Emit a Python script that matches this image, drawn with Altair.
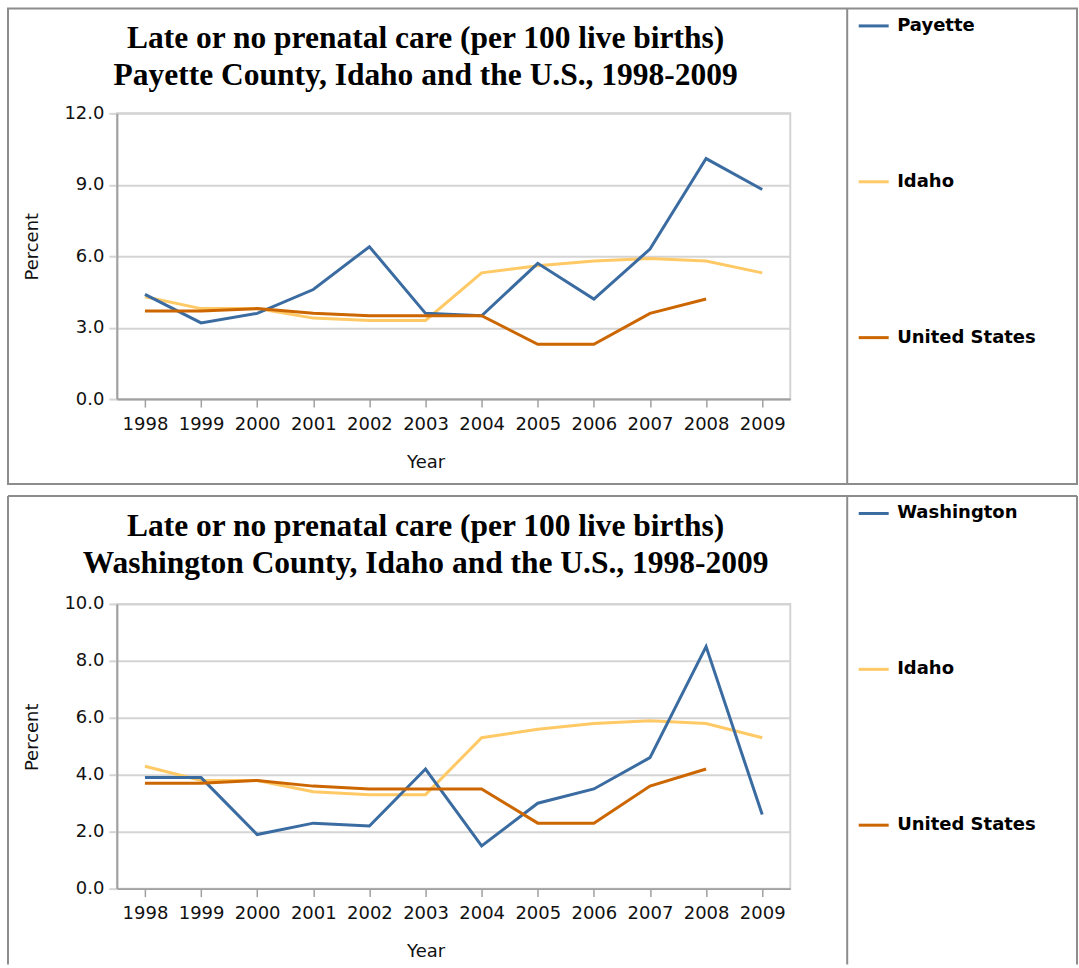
import altair as alt
import pandas as pd

# ---- data -------------------------------------------------------------
years = [str(y) for y in range(1998, 2010)]
payette = [4.4, 3.2, 3.6, 4.6, 6.4, 3.6, 3.5, 5.7, 4.2, 6.3, 10.1, 8.8]
washington = [3.9, 3.9, 1.9, 2.3, 2.2, 4.2, 1.5, 3.0, 3.5, 4.6, 8.5, 2.6]
idaho = [4.3, 3.8, 3.8, 3.4, 3.3, 3.3, 5.3, 5.6, 5.8, 5.9, 5.8, 5.3]
united_states = [3.7, 3.7, 3.8, 3.6, 3.5, 3.5, 3.5, 2.3, 2.3, 3.6, 4.2, None]

title_payette = ["Late or no prenatal care (per 100 live births)",
                 "Payette County, Idaho and the U.S., 1998-2009"]
title_washington = ["Late or no prenatal care (per 100 live births)",
                    "Washington County, Idaho and the U.S., 1998-2009"]

# ---- styling ----------------------------------------------------------
BLUE = "#3a6ba1"
YELLOW = "#ffc966"
ORANGE = "#cc6600"
SANS = "DejaVu Sans"
SERIF = "Liberation Serif"
FRAME = "#8c8c8c"
GRID = "#d4d4d4"
DOMAIN = "#a0a0a0"

PAGE_RIGHT = 1077
SEPARATOR_X = 847
PLOT_LEFT = 116
PLOT_WIDTH = 674


def series_table(county, county_vals):
    rows = []
    for name, vals in (("Idaho", idaho), (county, county_vals), ("United States", united_states)):
        for yr, v in zip(years, vals):
            if v is not None:
                rows.append({"Year": yr, "Series": name, "Percent": v})
    return pd.DataFrame(rows)


def one_row(**kw):
    return pd.DataFrame({k: [v] for k, v in kw.items()} or {"k": [0]})


def panel(county, county_vals, title_lines, ymax, ystep, height,
          top, frame_top, frame_bottom, closed):
    """top gives the page position of the plot area's upper edge; the
    decorations are placed relative to the plot area."""
    left = PLOT_LEFT
    df = series_table(county, county_vals)

    legend = alt.Legend(
        title=None, orient="none", direction="vertical",
        legendX=857 - left, legendY=frame_top + 1 - top,
        symbolType="stroke", symbolStrokeWidth=3, symbolSize=900,
        labelFont=SANS, labelFontSize=18, labelFontWeight="bold",
        labelColor="#000000", labelOffset=7, rowPadding=130, padding=0,
    )

    lines = alt.Chart(df).mark_line(strokeWidth=3).encode(
        x=alt.X("Year:O", title="Year",
                axis=alt.Axis(labelAngle=0, grid=False, tickSize=8, tickWidth=1.5,
                              tickColor=DOMAIN, domainColor=DOMAIN, domainWidth=2,
                              labelPadding=8, titleX=425 - left, titleY=63,
                              titleBaseline="middle")),
        y=alt.Y("Percent:Q", title="Percent",
                scale=alt.Scale(domain=[0, ymax], nice=False),
                axis=alt.Axis(values=list(range(0, ymax + 1, ystep)), format=".1f",
                              grid=True, gridColor=GRID, gridWidth=2,
                              tickSize=8, tickColor=GRID, tickWidth=2,
                              domainColor=DOMAIN, domainWidth=2, labelPadding=5,
                              titleX=32 - left, titleY=133,
                              titleBaseline="middle")),
        color=alt.Color("Series:N",
                        scale=alt.Scale(domain=[county, "Idaho", "United States"],
                                        range=[BLUE, YELLOW, ORANGE]),
                        legend=legend),
    )

    heading = [
        alt.Chart(one_row(line=txt)).mark_text(
            font=SERIF, fontSize=31.5, fontWeight="bold", color="#000000",
            align="center", baseline="alphabetic",
        ).encode(text="line:N", x=alt.value(425 - left), y=alt.value(frame_top + dy - top))
        for txt, dy in zip(title_lines, (40, 77))
    ]

    deco = []
    if closed:
        deco.append(alt.Chart(one_row()).mark_rect(
            fill="white", fillOpacity=0, stroke=FRAME, strokeWidth=2
        ).encode(x=alt.value(7 - left), x2=alt.value(PAGE_RIGHT - left),
                 y=alt.value(frame_top - top), y2=alt.value(frame_bottom - top)))
    else:
        deco.append(alt.Chart(one_row()).mark_rule(stroke=FRAME, strokeWidth=2).encode(
            x=alt.value(7 - left), x2=alt.value(PAGE_RIGHT - left), y=alt.value(frame_top - top)))
        for xpos in (7, PAGE_RIGHT):
            deco.append(alt.Chart(one_row()).mark_rule(stroke=FRAME, strokeWidth=2).encode(
                x=alt.value(xpos - left), y=alt.value(frame_top - top),
                y2=alt.value(frame_bottom - top)))
    deco.append(alt.Chart(one_row()).mark_rule(stroke=FRAME, strokeWidth=2).encode(
        x=alt.value(SEPARATOR_X - left), y=alt.value(frame_top - top),
        y2=alt.value(frame_bottom - top)))

    return alt.layer(*deco, *heading, lines).properties(width=PLOT_WIDTH, height=height)


top_panel = panel("Payette", payette, title_payette, 12, 3, height=286, top=112,
                  frame_top=7, frame_bottom=483, closed=True)
bottom_panel = panel("Washington", washington, title_washington, 10, 2, height=285, top=601,
                     frame_top=493, frame_bottom=962, closed=False)

chart = alt.vconcat(top_panel, bottom_panel, spacing=8).resolve_scale(
    color="independent"
).resolve_legend(
    color="independent"
).properties(
    padding={"left": 6, "top": 6, "right": 0, "bottom": 0},
    background="white",
).configure_view(
    stroke=GRID, strokeWidth=2
).configure_axis(
    labelFont=SANS, labelFontSize=18, labelColor="#111111",
    titleFont=SANS, titleFontSize=18, titleFontWeight="normal", titleColor="#111111",
)

chart.save("out.html", embed_options={"renderer": "svg", "actions": False})
